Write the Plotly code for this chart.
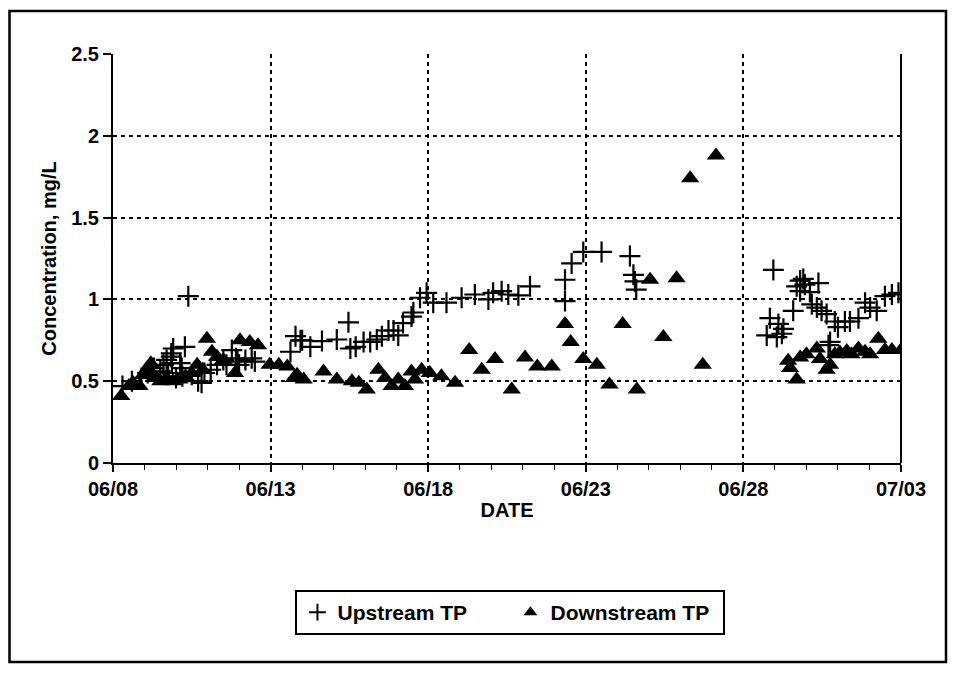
import pandas as pd
import plotly.graph_objects as go

# Sampling time, in days after 06/08 00:00, and concentrations (mg/L)
up_days = [0.3, 0.6, 0.9, 1.1, 1.3, 1.5, 1.6, 1.7, 1.75, 1.85, 1.85, 1.87, 1.91, 2.0, 2.13, 2.18,
           2.2, 2.28, 2.39, 2.5, 2.7, 2.81, 2.9, 3.1, 3.3, 3.5, 3.6, 3.77, 3.9, 3.95, 4.0, 4.2,
           4.4, 4.5,
           5.63, 5.79, 5.95, 6.0, 6.26, 6.63, 7.1, 7.47, 7.53, 7.7, 7.95, 8.16, 8.37, 8.53,
           8.74, 8.9, 9.05, 9.2, 9.47, 9.53, 9.74, 9.95, 10.16, 10.58,
           11.06, 11.48, 11.91, 12.06, 12.33, 12.54, 12.86, 13.23,
           14.34, 14.34, 14.55, 14.92, 15.5, 16.4, 16.51, 16.56, 16.6,
           20.74, 20.84, 20.95, 21.06, 21.11, 21.22, 21.27, 21.58, 21.69, 21.8, 21.8, 21.9,
           21.95, 22.11, 22.17, 22.33, 22.38, 22.48, 22.64, 22.7, 22.75, 22.9, 23.0, 23.22,
           23.38, 23.65, 23.86, 24.02, 24.23, 24.49, 24.71, 24.92]
up_vals = [0.47, 0.50, 0.52, 0.55, 0.58, 0.56, 0.60, 0.63, 0.55, 0.67, 0.65, 0.61, 0.70, 0.52, 0.61, 0.58,
           0.53, 0.71, 1.02, 0.54, 0.50, 0.49, 0.55, 0.57, 0.60, 0.63, 0.60, 0.69, 0.64, 0.62, 0.60, 0.63,
           0.64, 0.62,
           0.68, 0.775, 0.75, 0.75, 0.71, 0.745, 0.755, 0.86, 0.70, 0.71, 0.74, 0.74, 0.755, 0.775,
           0.81, 0.81, 0.78, 0.855, 0.895, 0.92, 1.01, 1.04, 0.98, 0.98,
           1.01, 1.03, 1.00, 1.04, 1.05, 1.03, 1.025, 1.08,
           0.99, 1.12, 1.22, 1.29, 1.29, 1.265, 1.15, 1.11, 1.06,
           0.78, 0.885, 1.18, 0.77, 0.85, 0.79, 0.82, 0.93, 1.08, 1.115, 1.05, 1.125,
           1.09, 1.045, 0.97, 0.95, 1.10, 0.93, 0.91, 0.72, 0.74, 0.865, 0.83, 0.865,
           0.865, 0.885, 0.98, 0.95, 0.93, 1.02, 1.03, 1.04]

down_days = [0.26, 0.5, 0.63, 0.84, 1.0, 1.1, 1.2, 1.35, 1.5, 1.7, 1.9, 2.1, 2.3, 2.5, 2.67, 2.85,
             2.98, 3.14, 3.3, 3.5, 3.87, 4.03, 4.34, 4.6, 4.97,
             5.26, 5.53, 5.74, 5.84, 6.05, 6.68, 7.1, 7.58, 7.8, 8.05, 8.42, 8.63, 8.84, 9.05,
             9.26, 9.47, 9.58, 9.79, 10.05, 10.42, 10.85, 11.3, 11.7, 12.12, 12.65, 13.07,
             13.46, 13.92, 14.34, 14.52, 14.92, 15.35, 15.75, 16.17, 16.62, 17.04, 17.46,
             17.88, 18.31, 18.71, 19.13,
             21.42, 21.48, 21.69, 21.8, 22.0, 22.33, 22.43, 22.64, 22.75, 22.9, 23.06, 23.28,
             23.43, 23.65, 23.86, 24.02, 24.28, 24.49, 24.71, 25.0]
down_vals = [0.41, 0.47, 0.49, 0.47, 0.55, 0.58, 0.61, 0.52, 0.50, 0.52, 0.50, 0.51, 0.53, 0.55, 0.60, 0.57,
             0.76, 0.68, 0.65, 0.63, 0.55, 0.75, 0.74, 0.72, 0.60,
             0.60, 0.59, 0.52, 0.54, 0.51, 0.56, 0.51, 0.50, 0.49, 0.45, 0.57, 0.52, 0.47, 0.51,
             0.47, 0.56, 0.51, 0.57, 0.55, 0.53, 0.49, 0.69, 0.57, 0.635, 0.45, 0.645,
             0.59, 0.59, 0.85, 0.74, 0.635, 0.60, 0.48, 0.85, 0.45, 1.12, 0.77,
             1.13, 1.74, 0.60, 1.88,
             0.625, 0.58, 0.51, 0.645, 0.665, 0.70, 0.635, 0.57, 0.60, 0.665, 0.675, 0.685,
             0.665, 0.70, 0.68, 0.665, 0.76, 0.69, 0.69, 0.69]

start_date = "2000-06-08"
end_date = "2000-07-03"
y_ticks = [0, 0.5, 1, 1.5, 2, 2.5]
y_tick_text = ["0", "0.5", "1", "1.5", "2", "2.5"]

base = pd.Timestamp(start_date)
up_x = [base + pd.Timedelta(days=d) for d in up_days]
down_x = [base + pd.Timedelta(days=d) for d in down_days]

FONT = "Liberation Sans, Arial, sans-serif"
FS = 20

fig = go.Figure()
fig.add_trace(go.Scatter(
    x=up_x, y=up_vals, mode="markers", name="<b>Upstream TP</b>",
    marker=dict(symbol="cross-thin", size=15, color="black",
                line=dict(color="black", width=2.2)),
))
fig.add_trace(go.Scatter(
    x=down_x, y=down_vals, mode="markers", name="<b>Downstream TP</b>",
    marker=dict(symbol="triangle-up", size=16, color="black", line=dict(width=0)),
))

# page body has an 8px margin; layout margins compensate for it
L, R, T, B = 105, 65, 46, 218
W, H = 958, 673
fig.update_layout(
    width=W, height=H,
    margin=dict(l=L, r=R, t=T, b=B),
    paper_bgcolor="white", plot_bgcolor="white",
    font=dict(family=FONT, size=FS, color="black", weight="bold"),
    showlegend=True,
    legend=dict(
        orientation="h", x=0.5044, y=-0.3105, xanchor="center", yanchor="top",
        bordercolor="black", borderwidth=2, bgcolor="white",
        font=dict(family=FONT, size=21, color="black"),
        itemsizing="constant", tracegroupgap=0, entrywidth=168,
    ),
    xaxis=dict(
        type="date",
        range=[start_date, end_date],
        tick0=start_date, dtick=5 * 86400000, tickformat="%m/%d",
        showline=True, linecolor="black", linewidth=2,
        ticks="outside", ticklen=7, tickwidth=1.5, tickcolor="black",
        showgrid=True, gridcolor="black", gridwidth=1.6, griddash="4px,4px",
        minor=dict(dtick=86400000, ticks="outside", ticklen=5, tickwidth=1.2,
                   tickcolor="black", showgrid=False),
        zeroline=False,
        title=dict(text="<b>DATE</b>", font=dict(size=FS), standoff=4),
        tickfont=dict(size=FS, weight="bold"),
    ),
    yaxis=dict(
        range=[0, 2.5], tickvals=y_ticks, ticktext=y_tick_text,
        showline=True, linecolor="black", linewidth=2,
        ticks="outside", ticklen=8, tickwidth=1.5, tickcolor="black",
        showgrid=True, gridcolor="black", gridwidth=1.6, griddash="4px,4px",
        zeroline=False,
        title=dict(text="<b>Concentration, mg/L</b>", font=dict(size=FS), standoff=9),
        tickfont=dict(size=FS, weight="bold"),
    ),
)

# right edge of plot area (solid)
fig.add_shape(type="line", xref="paper", yref="paper", x0=1, x1=1, y0=0, y1=1,
              line=dict(color="black", width=2))
# outer chart frame
pw, ph = W - L - R, H - T - B
def px_to_paper_x(px):
    return (px - L) / pw
def px_to_paper_y(py):
    return (H - B - py) / ph
fig.add_shape(type="rect", xref="paper", yref="paper",
              x0=px_to_paper_x(1.5), x1=px_to_paper_x(938),
              y0=px_to_paper_y(654), y1=px_to_paper_y(3),
              line=dict(color="black", width=2.5), layer="below")

fig.write_html("out.html")
